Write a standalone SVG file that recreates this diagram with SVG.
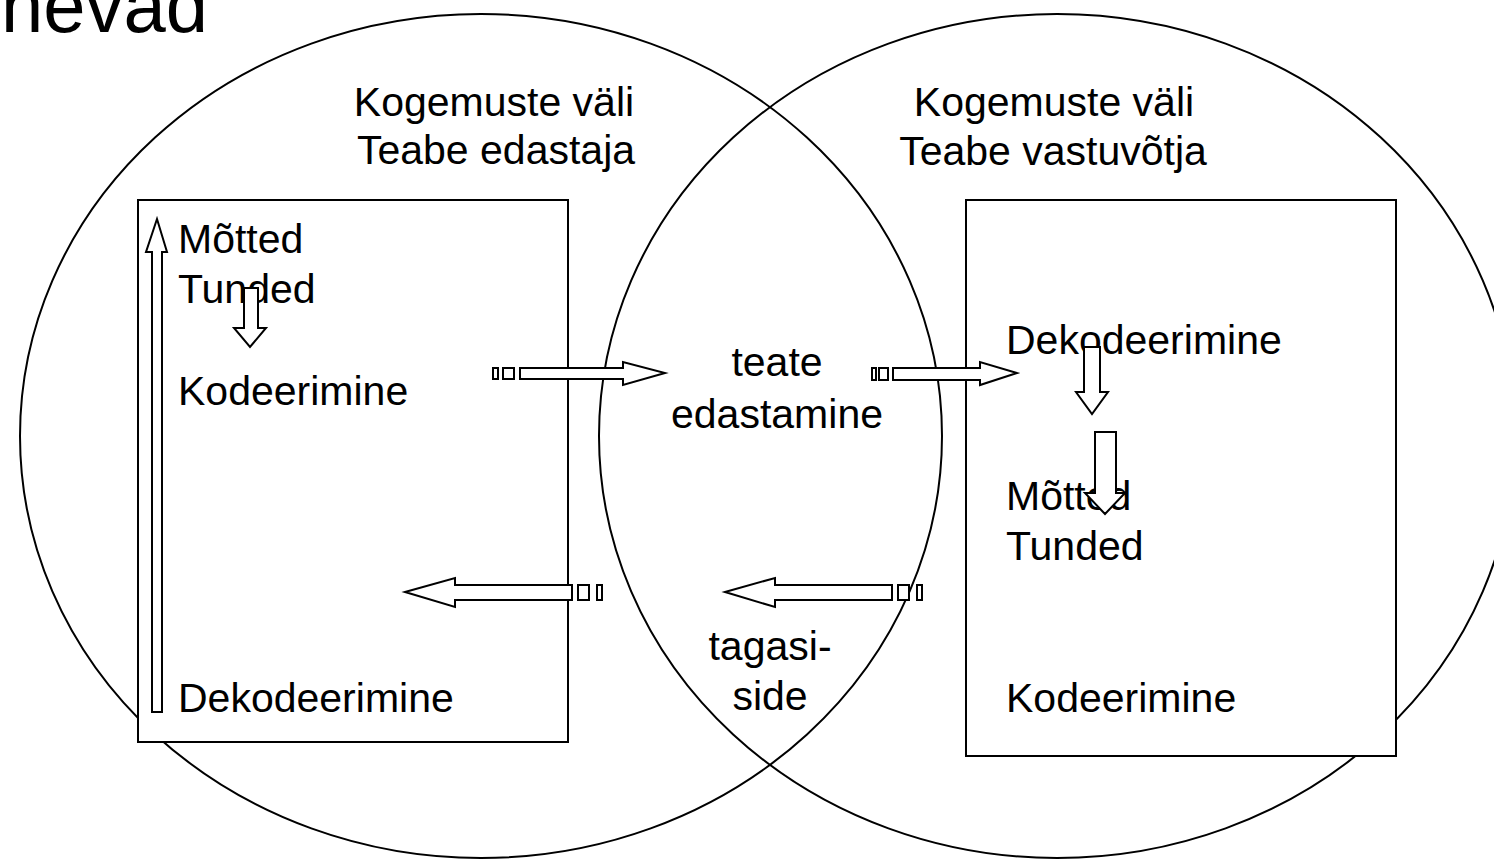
<svg xmlns="http://www.w3.org/2000/svg" width="1494" height="859" viewBox="0 0 1494 859">
<style>
.ln{fill:none;stroke:#000;stroke-width:2}
.box{fill:#fff;stroke:#000;stroke-width:2}
.ar{fill:#fff;stroke:#000;stroke-width:2;stroke-linejoin:miter}
text{font-family:"Liberation Sans",Arial,sans-serif;font-size:41px;fill:#000}
.mid{text-anchor:middle}
</style>
<rect width="1494" height="859" fill="#fff"/>
<text x="208" y="32" text-anchor="end" style="font-size:76px">nevad</text>
<g id="field-sender"><ellipse class="ln" cx="481" cy="436" rx="461" ry="422"/></g>
<g id="field-receiver"><ellipse class="ln" cx="1057" cy="436" rx="458" ry="422"/></g>
<g id="sender-box">
<rect class="box" x="138" y="200" width="430" height="542"/>
<text x="178" y="253">Mõtted</text>
<text x="178" y="303">Tunded</text>
<text x="178" y="405">Kodeerimine</text>
<text x="178" y="712">Dekodeerimine</text>
</g>
<g id="receiver-box">
<rect class="box" x="966" y="200" width="430" height="556"/>
<text x="1006" y="354">Dekodeerimine</text>
<text x="1006" y="510">Mõtted</text>
<text x="1006" y="560">Tunded</text>
<text x="1006" y="712">Kodeerimine</text>
</g>
<g id="label-sender">
<text class="mid" x="494" y="116">Kogemuste väli</text>
<text class="mid" x="496" y="164">Teabe edastaja</text>
</g>
<g id="label-receiver">
<text class="mid" x="1054" y="116">Kogemuste väli</text>
<text class="mid" x="1053" y="165">Teabe vastuvõtja</text>
</g>
<g id="message">
<text class="mid" x="777" y="376">teate</text>
<text class="mid" x="777" y="428">edastamine</text>
</g>
<g id="feedback">
<text class="mid" x="770" y="660">tagasi-</text>
<text class="mid" x="770" y="710">side</text>
</g>
<g id="connectors">
<polygon class="ar" points="157,219 167,252 162,252 162,712 152,712 152,252 146,252"/>
<polygon class="ar" points="244,288 258,288 258,328 266,328 250,347 234,328 244,328"/>
<polygon class="ar" points="1084,347 1100,347 1100,392 1108,392 1092,414 1076,392 1084,392"/>
<polygon class="ar" points="1095,432 1116,432 1116,493 1125,493 1105,514 1085,493 1095,493"/>
<rect class="ar" x="493" y="368" width="5" height="11"/>
<rect class="ar" x="503" y="368" width="11" height="11"/>
<polygon class="ar" points="520,368 623,368 623,362 665,373 623,385 623,379 520,379"/>
<rect class="ar" x="872" y="368" width="4" height="12"/>
<rect class="ar" x="879" y="368" width="9" height="12"/>
<polygon class="ar" points="893,368 980,368 980,362 1017,373 980,385 980,380 893,380"/>
<polygon class="ar" points="405,592 455,578 455,585 572,585 572,600 455,600 455,607"/>
<rect class="ar" x="578" y="585" width="11" height="15"/>
<rect class="ar" x="597" y="585" width="5" height="15"/>
<polygon class="ar" points="725,592 775,578 775,585 892,585 892,600 775,600 775,607"/>
<rect class="ar" x="898" y="585" width="11" height="15"/>
<rect class="ar" x="917" y="585" width="5" height="15"/>
</g>
</svg>
